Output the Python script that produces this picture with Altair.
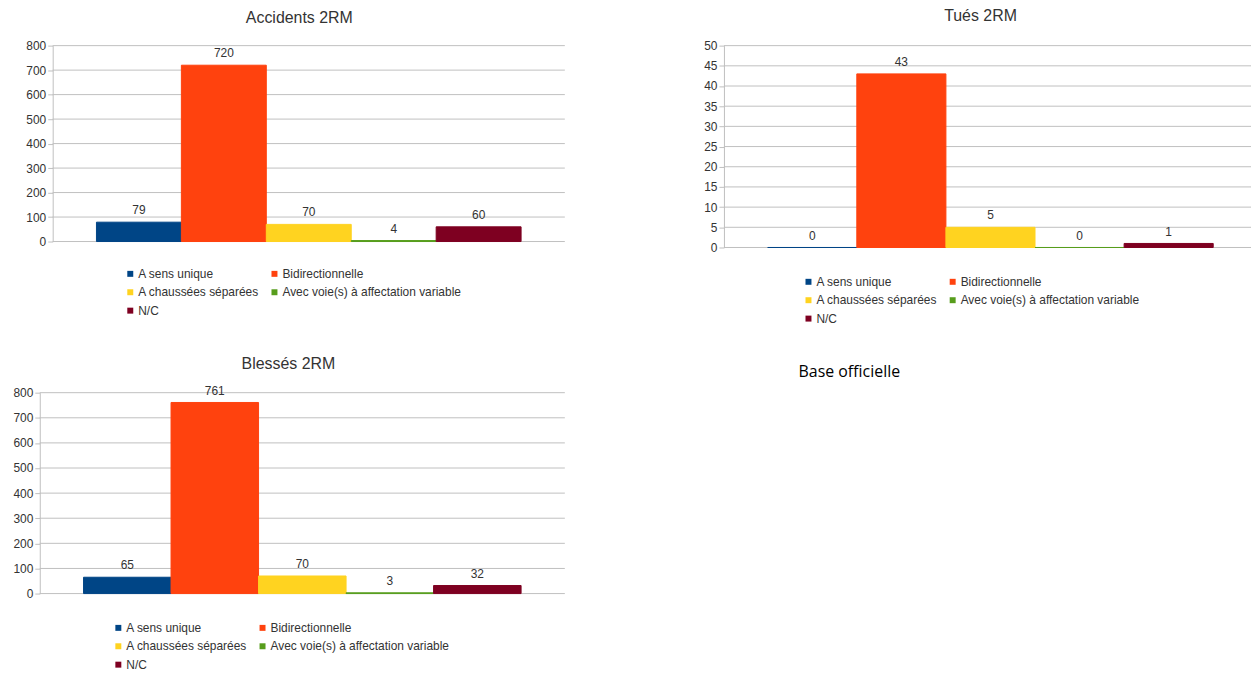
import altair as alt
import pandas as pd

categories = ["A sens unique", "Bidirectionnelle", "A chaussées séparées",
              "Avec voie(s) à affectation variable", "N/C"]
colors = ["#004586", "#ff420e", "#ffd320", "#579d1c", "#7e0021"]

accidents = [79, 720, 70, 4, 60]
tues = [0, 43, 5, 0, 1]
blesses = [65, 761, 70, 3, 32]

titles = ["Accidents 2RM", "Tués 2RM", "Blessés 2RM"]
source_note = "Base officielle"

FONT = "Liberation Sans"
GRID = "#c0c0c0"
TXT = "#333333"


def panel(values, title, ymax, step, width, height, x_range, axis_shift,
          legend_x, legend_y, title_x, title_y=-29):
    df = pd.DataFrame({"cat": categories, "val": values})
    ticks = list(range(0, ymax + 1, step))
    yscale = alt.Scale(domain=[0, ymax], nice=False)
    yaxis = alt.Axis(values=ticks, grid=False, title=None,
                     offset=-axis_shift, domainColor=GRID,
                     tickColor=GRID, tickSize=5, labelPadding=2,
                     labelFont=FONT, labelFontSize=12, labelColor=TXT,
                     labelOverlap=False)
    x = alt.X("cat:N", sort=categories,
              scale=alt.Scale(range=x_range, paddingInner=0, paddingOuter=0),
              axis=None)
    y = alt.Y("val:Q", scale=yscale, axis=yaxis)
    grid = alt.Chart(pd.DataFrame({"v": ticks})).mark_rule(
        color=GRID, strokeWidth=1
    ).encode(y=alt.Y("v:Q", scale=yscale, axis=yaxis),
             x=alt.value(axis_shift), x2=alt.value(width))
    base = alt.Chart(df)
    bars = base.mark_bar(strokeWidth=1).encode(
        x=x, y=y,
        color=alt.Color("cat:N", sort=categories,
                        scale=alt.Scale(domain=categories, range=colors),
                        legend=alt.Legend(orient="none", legendX=legend_x,
                                          legendY=legend_y, columns=2,
                                          direction="horizontal",
                                          title=None, symbolType="square",
                                          symbolSize=36, symbolStrokeWidth=0,
                                          labelFont=FONT, labelFontSize=12,
                                          labelColor=TXT, labelLimit=400,
                                          labelOffset=2, columnPadding=9,
                                          rowPadding=6.5)),
        stroke=alt.Stroke("cat:N", sort=categories,
                          scale=alt.Scale(domain=categories, range=colors),
                          legend=None),
    )
    labels = base.mark_text(baseline="middle", dy=-12, font=FONT, fontSize=12,
                            color=TXT).encode(x=x, y=y, text="val:Q")
    ttl = alt.Chart(pd.DataFrame({"t": [title]})).mark_text(
        font=FONT, fontSize=16, color=TXT, baseline="middle", align="center"
    ).encode(text="t:N", x=alt.value(title_x), y=alt.value(title_y))
    return alt.layer(grid, bars, labels, ttl).properties(width=width,
                                                          height=height)


# Accidents: plot drawn from 13 px to the right of the panel origin
acc = panel(accidents, titles[0], 800, 100, 528, 197, [57, 484], 13,
            85, 223.5, title_x=261, title_y=-28)
tue = panel(tues, titles[1], 50, 5, 530, 203, [44, 492], 0,
            79, 231.5, title_x=258, title_y=-30)
ble = panel(blesses, titles[2], 800, 100, 528, 202, [44, 484], 0,
            73, 230.5, title_x=250)

note = alt.Chart(pd.DataFrame({"t": [source_note]})).mark_text(
    align="left", baseline="middle", font="Open Sans", fontSize=16,
    color="#000000"
).encode(text="t:N", x=alt.value(96), y=alt.value(16)).properties(
    width=200, height=24)

chart = alt.concat(
    acc, tue, ble, note, columns=2, align="none",
    spacing={"row": 31, "column": 138},
).resolve_scale(
    color="independent", stroke="independent", y="independent"
).resolve_legend(
    color="independent", stroke="independent"
).properties(
    padding={"left": 12, "top": 6, "right": 0, "bottom": 0}
).configure_view(stroke=None)

chart.save("out.html", embed_options={"renderer": "svg", "actions": False})
